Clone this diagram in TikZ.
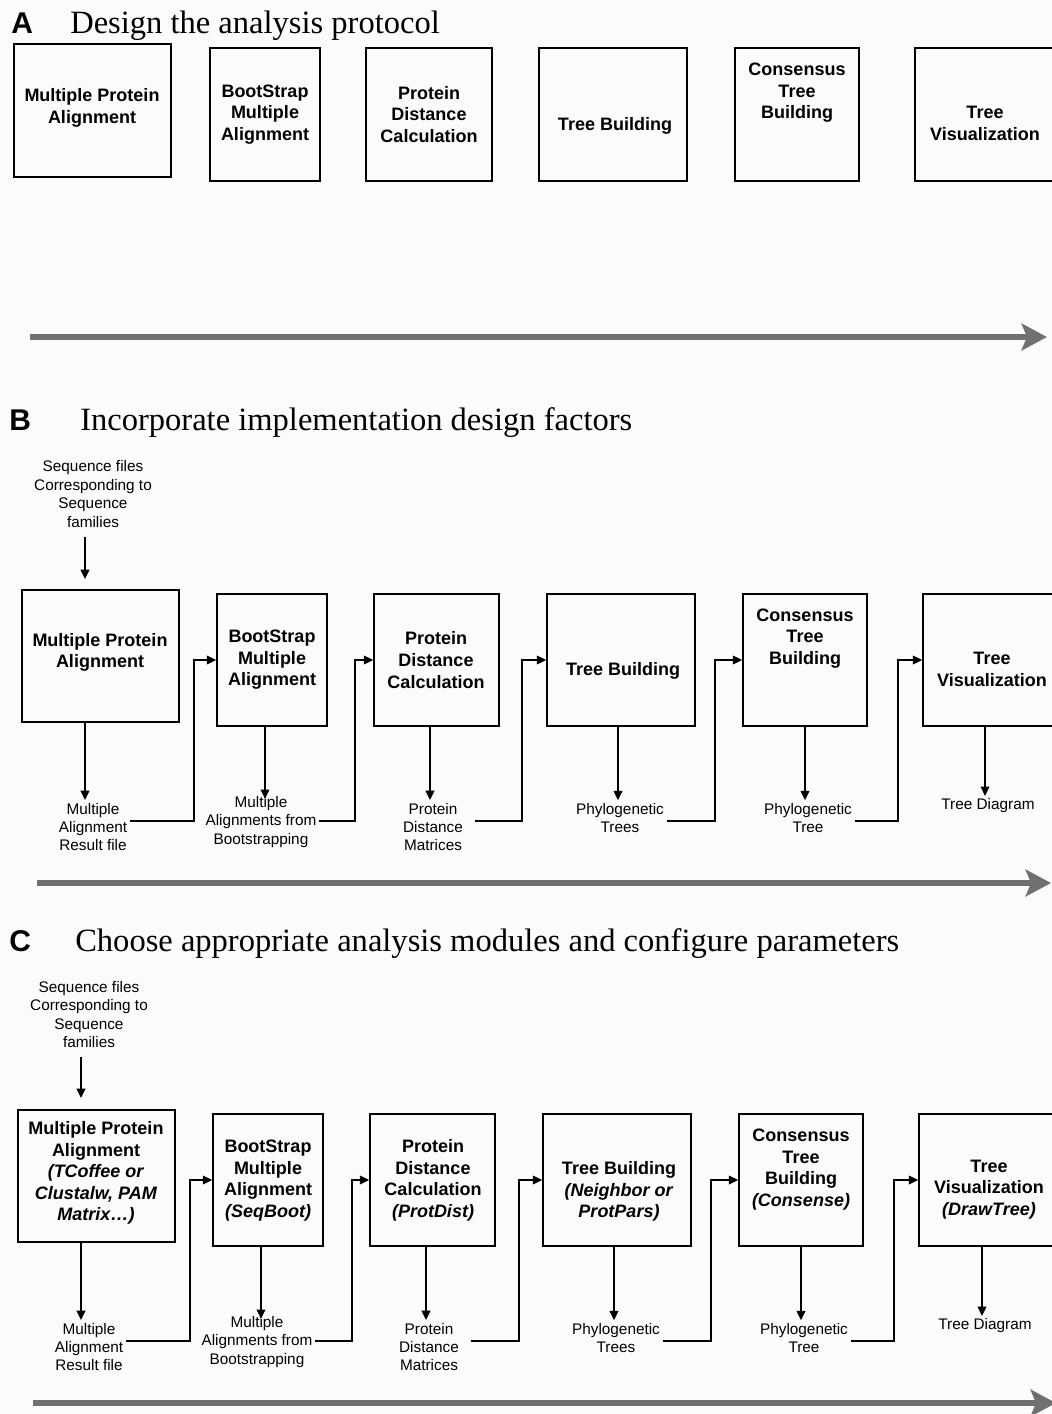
\documentclass[tikz,border=0pt]{standalone}
\usepackage{fontspec}
\setmainfont{Liberation Sans}
\newfontfamily\serifttl{Liberation Serif}
\usetikzlibrary{arrows.meta}
\definecolor{bgc}{RGB}{251,251,251}
\definecolor{bigc}{RGB}{112,112,112}
\newcommand\procbox[5]{\node[boxst, minimum width={(#4-#2)*0.75pt}, minimum height={(#5-#3)*0.75pt}] (#1) at ({(#2+#4)/2},{(#3+#5)/2}) {};}
\begin{document}
\begin{tikzpicture}[x=0.75pt,y=-0.75pt,
 boxst/.style={draw=black, line width=1.2pt, inner sep=0pt},
 btxt/.style={font=\fontsize{13.5}{16.2}\selectfont\bfseries, align=center, inner sep=0pt},
 ltxt/.style={font=\fontsize{11.5}{13.8}\selectfont, align=center, inner sep=2pt},
 ttl/.style={font=\fontsize{24.4}{28}\selectfont\serifttl, anchor=base west, inner sep=0pt},
 letter/.style={font=\fontsize{22.5}{26}\selectfont\bfseries, anchor=base west, inner sep=0pt},
 flow/.style={line width=1.1pt, -{Triangle[length=7pt,width=6.5pt]}},
 bigarrow/.style={draw=bigc, line width=5pt, -{Stealth[length=19pt,width=20pt,inset=4pt]}}
]
\useasboundingbox (0,0) rectangle (1052,1414);
\fill[bgc] (0,0) rectangle (1052,1414);
\clip (0,0) rectangle (1052,1414);

% ---------------- Panel A ----------------
\node[letter] (lA) at (11,33) {A};
\node[ttl] (tA) at (70,33) {Design the analysis protocol};
\procbox{a1}{14}{44}{171}{177}
\procbox{a2}{210}{48}{320}{181}
\procbox{a3}{366}{48}{492}{181}
\procbox{a4}{539}{48}{687}{181}
\procbox{a5}{735}{48}{859}{181}
\procbox{a6}{915}{48}{1075}{181}
\node[btxt] (a1t) at (92,108) {Multiple Protein\\Alignment};
\node[btxt] (a2t) at (265,114.5) {BootStrap\\Multiple\\Alignment};
\node[btxt] (a3t) at (429,114.5) {Protein\\Distance\\Calculation};
\node[btxt] (a4t) at (615,126) {Tree Building};
\node[btxt] (a5t) at (797,93) {Consensus\\Tree\\Building};
\node[btxt] (a6t) at (985,123.5) {Tree\\Visualization};
\coordinate (aS) at (30,337);
\coordinate (aE) at (1047,337);
\draw[bigarrow] (aS) -- (aE);

% ---------------- Panel B ----------------
\node[letter] (lB) at (9,430) {B};
\node[ttl] (tB) at (80,430) {Incorporate implementation design factors};
\node[ltxt] (inB) at (93,494) {Sequence files\\Corresponding to\\Sequence\\families};
\coordinate (inBe) at (85,579);
\draw[flow, shorten <=5pt] (inB.south -| inBe) -- (inBe);
\procbox{b1}{22}{590}{179}{722}
\procbox{b2}{217}{594}{327}{726}
\procbox{b3}{374}{594}{499}{726}
\procbox{b4}{547}{594}{695}{726}
\procbox{b5}{743}{594}{867}{726}
\procbox{b6}{923}{594}{1075}{726}
\node[btxt] (b1t) at (100,652.5) {Multiple Protein\\Alignment};
\node[btxt] (b2t) at (272,660) {BootStrap\\Multiple\\Alignment};
\node[btxt] (b3t) at (436,660) {Protein\\Distance\\Calculation};
\node[btxt] (b4t) at (623,671) {Tree Building};
\node[btxt] (b5t) at (805,638.5) {Consensus\\Tree\\Building};
\node[btxt] (b6t) at (992,669.5) {Tree\\Visualization};
\node[ltxt] (mB1) at (93,827) {Multiple\\Alignment\\Result file};
\node[ltxt] (mB2) at (261,822) {Multiple\\Alignments from\\Bootstrapping};
\node[ltxt] (mB3) at (433,827) {Protein\\Distance\\Matrices};
\node[ltxt] (mB4) at (620,818) {Phylogenetic\\Trees};
\node[ltxt] (mB5) at (808,818) {Phylogenetic\\Tree};
\node[ltxt] (mB6) at (988,806) {Tree Diagram};
\coordinate (xB1) at (85,0);
\coordinate (xB2) at (265,0);
\coordinate (xB3) at (430,0);
\coordinate (xB4) at (618,0);
\coordinate (xB5) at (805,0);
\coordinate (xB6) at (985,0);
\draw[flow] (b1.south -| xB1) -- (mB1.north -| xB1);
\draw[flow] (b2.south -| xB2) -- ([yshift=-4pt]mB2.north -| xB2);
\draw[flow] (b3.south -| xB3) -- (mB3.north -| xB3);
\draw[flow] (b4.south -| xB4) -- (mB4.north -| xB4);
\draw[flow] (b5.south -| xB5) -- (mB5.north -| xB5);
\draw[flow] (b6.south -| xB6) -- (mB6.north -| xB6);
\coordinate (kB1) at (194,821);
\coordinate (kB2) at (355,821);
\coordinate (kB3) at (522,821);
\coordinate (kB4) at (715,821);
\coordinate (kB5) at (898,821);
\draw[flow] (mB1.east |- kB1) -- (kB1) |- (b2.west);
\draw[flow] (mB2.east |- kB2) -- (kB2) |- (b3.west);
\draw[flow, shorten <=7pt] (mB3.east |- kB3) -- (kB3) |- (b4.west);
\draw[flow] (mB4.east |- kB4) -- (kB4) |- (b5.west);
\draw[flow] (mB5.east |- kB5) -- (kB5) |- (b6.west);
\coordinate (bS) at (37,883);
\coordinate (bE) at (1051,883);
\draw[bigarrow] (bS) -- (bE);

% ---------------- Panel C ----------------
\node[letter] (lC) at (9,951) {C};
\node[ttl] (tC) at (75,951) {Choose appropriate analysis modules and configure parameters};
\node[ltxt] (inC) at (89,1014.5) {Sequence files\\Corresponding to\\Sequence\\families};
\coordinate (inCe) at (81,1098);
\draw[flow, shorten <=5pt] (inC.south -| inCe) -- (inCe);
\procbox{c1}{18}{1110}{175}{1242}
\procbox{c2}{213}{1114}{323}{1246}
\procbox{c3}{370}{1114}{495}{1246}
\procbox{c4}{543}{1114}{691}{1246}
\procbox{c5}{739}{1114}{863}{1246}
\procbox{c6}{919}{1114}{1075}{1246}
\node[btxt] (c1t) at (96,1173) {Multiple Protein\\Alignment\\\textit{(TCoffee or}\\\textit{Clustalw, PAM}\\\textit{Matrix…)}};
\node[btxt] (c2t) at (268,1180.5) {BootStrap\\Multiple\\Alignment\\\textit{(SeqBoot)}};
\node[btxt] (c3t) at (433,1180.5) {Protein\\Distance\\Calculation\\\textit{(ProtDist)}};
\node[btxt] (c4t) at (619,1191.5) {Tree Building\\\textit{(Neighbor or}\\\textit{ProtPars)}};
\node[btxt] (c5t) at (801,1169.5) {Consensus\\Tree\\Building\\\textit{(Consense)}};
\node[btxt] (c6t) at (989,1189.5) {Tree\\Visualization\\\textit{(DrawTree)}};
\node[ltxt] (mC1) at (89,1347) {Multiple\\Alignment\\Result file};
\node[ltxt] (mC2) at (257,1342) {Multiple\\Alignments from\\Bootstrapping};
\node[ltxt] (mC3) at (429,1347) {Protein\\Distance\\Matrices};
\node[ltxt] (mC4) at (616,1338) {Phylogenetic\\Trees};
\node[ltxt] (mC5) at (804,1338) {Phylogenetic\\Tree};
\node[ltxt] (mC6) at (985,1326) {Tree Diagram};
\coordinate (xC1) at (81,0);
\coordinate (xC2) at (261,0);
\coordinate (xC3) at (426,0);
\coordinate (xC4) at (614,0);
\coordinate (xC5) at (801,0);
\coordinate (xC6) at (982,0);
\draw[flow] (c1.south -| xC1) -- (mC1.north -| xC1);
\draw[flow] (c2.south -| xC2) -- ([yshift=-4pt]mC2.north -| xC2);
\draw[flow] (c3.south -| xC3) -- (mC3.north -| xC3);
\draw[flow] (c4.south -| xC4) -- (mC4.north -| xC4);
\draw[flow] (c5.south -| xC5) -- (mC5.north -| xC5);
\draw[flow] (c6.south -| xC6) -- (mC6.north -| xC6);
\coordinate (kC1) at (190,1341);
\coordinate (kC2) at (352,1341);
\coordinate (kC3) at (519,1341);
\coordinate (kC4) at (711,1341);
\coordinate (kC5) at (894,1341);
\draw[flow] (mC1.east |- kC1) -- (kC1) |- (c2.west);
\draw[flow] (mC2.east |- kC2) -- (kC2) |- (c3.west);
\draw[flow, shorten <=7pt] (mC3.east |- kC3) -- (kC3) |- (c4.west);
\draw[flow] (mC4.east |- kC4) -- (kC4) |- (c5.west);
\draw[flow] (mC5.east |- kC5) -- (kC5) |- (c6.west);
\coordinate (cS) at (33,1403);
\coordinate (cE) at (1056,1403);
\draw[bigarrow] (cS) -- (cE);
\end{tikzpicture}
\end{document}
